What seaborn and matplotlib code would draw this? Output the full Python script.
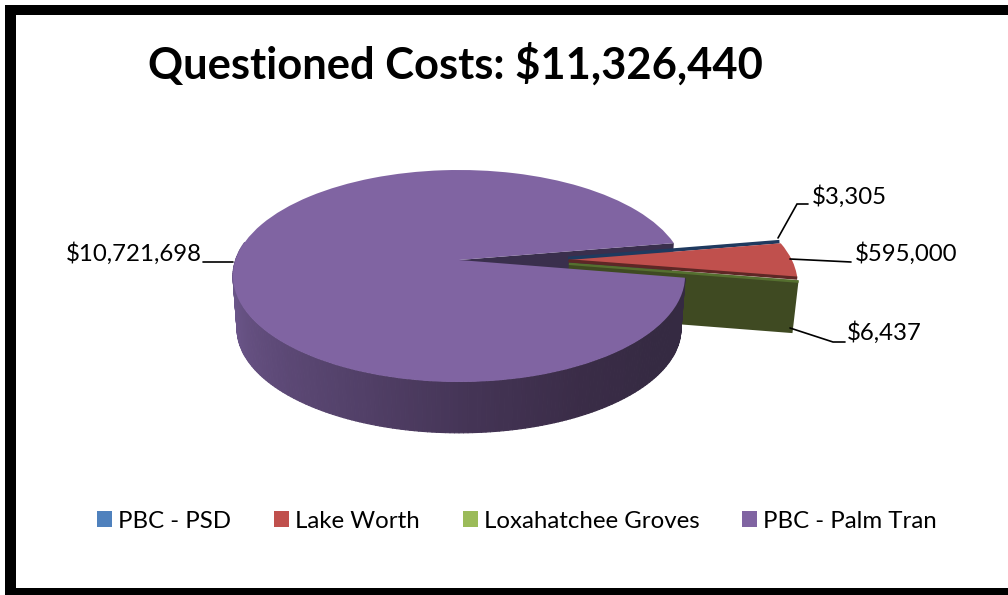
import numpy as np
import matplotlib
matplotlib.use("Agg")
import matplotlib.pyplot as plt
from matplotlib.collections import PolyCollection
from matplotlib.patches import Rectangle
from matplotlib.transforms import Transform
import seaborn as sns

# Questioned costs by grantee
grantees = ["PBC - PSD", "Lake Worth", "Loxahatchee Groves", "PBC - Palm Tran"]
costs = [3305, 595000, 6437, 10721698]
cost_labels = ["$3,305", "$595,000", "$6,437", "$10,721,698"]
title_text = "Questioned Costs: $11,326,440"

face_colors = ["#4F81BD", "#C0504D", "#9BBB59", "#8064A2"]
PX = 100 / 72  # pixels per point at the figure dpi


class TiltedDisc(Transform):
    """Projects the unit pie plane onto the page as a disc seen in perspective."""
    input_dims = 2
    output_dims = 2
    is_separable = False

    def __init__(self, y_origin=260.0, scale=1.0):
        super().__init__()
        self.y_origin = y_origin
        self.scale = scale

    def transform_non_affine(self, values):
        values = np.asarray(values, dtype=float)
        u, v = values[:, 0], values[:, 1]
        depth = 1 + 0.151 * v
        x = 459 + self.scale * 223.4 * u / depth
        y = self.y_origin - self.scale * 103.6 * v / depth
        return np.column_stack([x, y])


sns.set_theme(style="white")
plt.rcParams["font.family"] = ["Lato", "DejaVu Sans"]

fig = plt.figure(figsize=(10.08, 5.95), dpi=100, facecolor="white")
ax = fig.add_axes([0, 0, 1, 1])

top_plane = TiltedDisc()
base_plane = TiltedDisc(y_origin=313.0, scale=0.982)

share_rest = sum(costs[:3]) / sum(costs)
start = 360 * share_rest / 2
wedges, _ = ax.pie(costs, colors=sns.color_palette(face_colors), startangle=start,
                   counterclock=False, radius=1, center=(0, 0),
                   wedgeprops={"linewidth": 0})
ax.set_aspect("auto")
ax.set_xlim(0, 1008)
ax.set_ylim(595, 0)
ax.set_position([0, 0, 1, 1])

# The three smaller slices are pulled out of the pie
pulled = {0: (0.49, 0.025), 1: (0.49, 0.0), 2: (0.49, -0.025)}
for i, centre in pulled.items():
    wedges[i].set_center(centre)
for w in wedges:
    w.set_transform(top_plane + ax.transData)


def rim(centre, theta, plane):
    t = np.radians(theta)
    return plane.transform(np.array([[centre[0] + np.cos(t), centre[1] + np.sin(t)]]))[0]


def hub(centre, plane):
    return plane.transform(np.array([[centre[0], centre[1]]]))[0]


def cut_face(centre, theta, colour, z):
    quad = [hub(centre, top_plane), rim(centre, theta, top_plane),
            rim(centre, theta, base_plane), hub(centre, base_plane)]
    ax.fill(*zip(*quad), color=colour, lw=0, zorder=z)


def edge_band(centre, theta, colour, width_px, z, offset=0.0):
    a, b = hub(centre, top_plane), rim(centre, theta, top_plane)
    ax.plot([a[0], b[0]], [a[1] + offset, b[1] + offset], color=colour,
            lw=width_px / PX, solid_capstyle="butt", zorder=z)


psd, lake, lox, palm = wedges

# Cut face of the large slice, seen through the gap
cut_face((0, 0), palm.theta1, "#3A2F4D", 1)

# Blue slice with its dark edge
psd.set_zorder(2)
edge_band(pulled[0], psd.theta2, "#1F3A5F", 3.6, 2.1, offset=1.0)

# Lake Worth slice
lake.set_zorder(3)
edge_band(pulled[1], lake.theta1, "#5E2725", 3.2, 4.3, offset=0.8)

# Loxahatchee Groves slice: top sliver and its broad cut face
lox.set_zorder(3.9)
cut_face(pulled[2], lox.theta1, "#3F4A22", 4)
edge_band(pulled[2], lox.theta1, "#55702F", 2.4, 4.1, offset=1.2)

# Outer wall of the large slice, shaded by angle
angles = np.arange(170, 351.0, 1.0)
left_side = sns.blend_palette(["#755F95", "#6A5588", "#5E4A78", "#524068", "#443455",
                               "#3A2C47", "#352A42", "#352A42"], n_colors=len(angles))
polys = [[rim((0, 0), a0, top_plane), rim((0, 0), a1, top_plane),
          rim((0, 0), a1, base_plane), rim((0, 0), a0, base_plane)]
         for a0, a1 in zip(angles[:-1], angles[1:])]
ax.add_collection(PolyCollection(polys, facecolors=left_side[:len(polys)],
                                 edgecolors="face", linewidths=0.8, zorder=5))
palm.set_zorder(6)

# Value labels with leader lines
label_spots = [(812, 197), (855, 254), (847, 333), (66, 254)]
leaders = [[(778, 238), (797, 204), (808, 204)],
           [(790, 259), (851, 262)],
           [(790, 328), (833, 342), (845, 342)],
           [(203, 262), (233, 262)]]
for text, spot, path in zip(cost_labels, label_spots, leaders):
    ax.text(*spot, text, fontsize=17.3, color="black", va="center", ha="left", zorder=8)
    ax.plot(*zip(*path), color="black", lw=1.2, solid_joinstyle="miter", zorder=7)

ax.text(148, 64, title_text, fontsize=31.3, fontweight="bold", color="black",
        va="center", ha="left", zorder=8)

fs_px = 17.3 * PX
ax.legend(wedges, grantees, ncol=4, frameon=False, fontsize=17.3,
          loc="center", bbox_to_anchor=(517, 521), bbox_transform=ax.transData,
          handlelength=15 / fs_px, handleheight=15 / fs_px, handletextpad=6 / fs_px,
          columnspacing=43 / fs_px, borderpad=0, borderaxespad=0, labelcolor="black")

# Heavy frame on the left, top and bottom
for x, y, w, h in [(5, 5, 11, 590), (5, 5, 1003, 10), (5, 588, 1003, 7)]:
    ax.add_patch(Rectangle((x, y), w, h, facecolor="black", edgecolor="none", zorder=9))

fig.savefig("out.png", dpi=100)
